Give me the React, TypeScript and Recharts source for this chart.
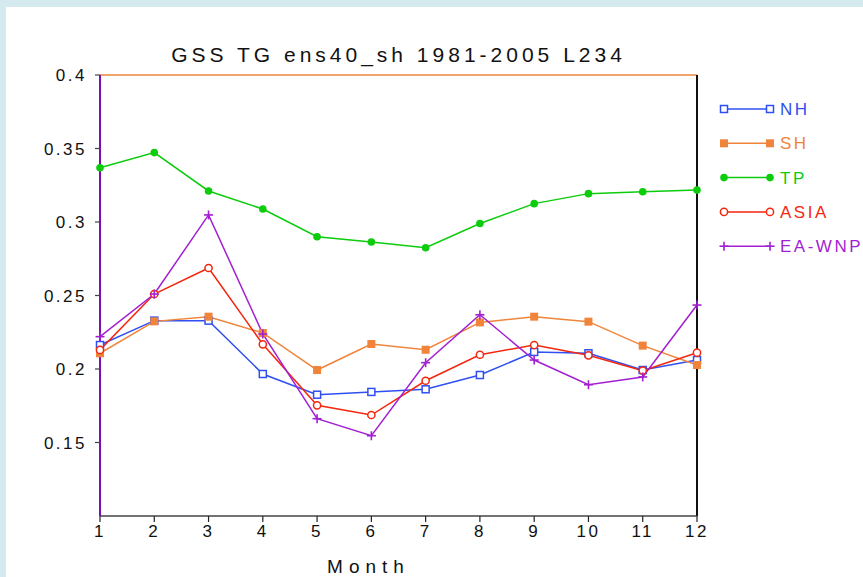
import React from 'react';
import { LineChart, Line, XAxis, YAxis, ReferenceLine, Legend } from 'recharts';

const months = [1, 2, 3, 4, 5, 6, 7, 8, 9, 10, 11, 12];
const nh = [0.2163, 0.2329, 0.2329, 0.1966, 0.1825, 0.1844, 0.1862, 0.1959, 0.2116, 0.2107, 0.1993, 0.2061];
const sh = [0.2107, 0.2324, 0.2356, 0.2245, 0.1993, 0.217, 0.2131, 0.2317, 0.2356, 0.2322, 0.2159, 0.2027];
const tp = [0.3369, 0.3472, 0.3211, 0.3088, 0.29, 0.2864, 0.2825, 0.299, 0.3125, 0.3193, 0.3206, 0.3218];
const asia = [0.213, 0.251, 0.2687, 0.2168, 0.1753, 0.1687, 0.192, 0.2097, 0.2163, 0.2093, 0.1989, 0.2111];
const eawnp = [0.222, 0.251, 0.3048, 0.2238, 0.1662, 0.1546, 0.2043, 0.2369, 0.2061, 0.1893, 0.1946, 0.2435];
const yTicks = [0.15, 0.2, 0.25, 0.3, 0.35, 0.4];
const title = 'GSS TG ens40_sh 1981-2005 L234';
const xLabel = 'Month';

const data = months.map((m, i) => ({
  month: m,
  NH: nh[i],
  SH: sh[i],
  TP: tp[i],
  ASIA: asia[i],
  'EA-WNP': eawnp[i],
}));

const series = [
  { key: 'NH', color: '#2f4ff2', marker: 'openSquare' },
  { key: 'SH', color: '#f0843a', marker: 'square' },
  { key: 'TP', color: '#0ccc0c', marker: 'circle' },
  { key: 'ASIA', color: '#f4260e', marker: 'openCircle' },
  { key: 'EA-WNP', color: '#a21fd2', marker: 'plus' },
];

function Marker({ type, cx, cy, color }: { type: string; cx: number; cy: number; color: string }) {
  if (cx == null || cy == null) return null;
  switch (type) {
    case 'openSquare':
      return <rect x={cx - 3.5} y={cy - 3.5} width={7} height={7} fill="#fff" stroke={color} strokeWidth={1.5} />;
    case 'square':
      return <rect x={cx - 4} y={cy - 4} width={8} height={8} fill={color} stroke="none" />;
    case 'circle':
      return <circle cx={cx} cy={cy} r={3.8} fill={color} stroke="none" />;
    case 'openCircle':
      return <circle cx={cx} cy={cy} r={3.6} fill="#fff" stroke={color} strokeWidth={1.5} />;
    case 'plus':
      return (
        <g stroke={color} strokeWidth={1.6}>
          <line x1={cx - 4.5} y1={cy} x2={cx + 4.5} y2={cy} />
          <line x1={cx} y1={cy - 4.5} x2={cx} y2={cy + 4.5} />
        </g>
      );
    default:
      return null;
  }
}

const LegendContent = () => (
  <svg width={143} height={170} style={{ display: 'block', overflow: 'visible' }}>
    {series.map((s, i) => {
      const y = 14 + i * 34.3;
      return (
        <g key={s.key}>
          <line x1={4} y1={y} x2={50} y2={y} stroke={s.color} strokeWidth={1.5} />
          <Marker type={s.marker} cx={4} cy={y} color={s.color} />
          <Marker type={s.marker} cx={50} cy={y} color={s.color} />
          <text
            x={60}
            y={y + 6}
            fill={s.color}
            fontSize={17}
            letterSpacing={2.5}
            fontFamily="Liberation Sans, Arial, sans-serif"
          >
            {s.key}
          </text>
        </g>
      );
    })}
  </svg>
);

const tickStyle = { fill: '#111', fontSize: 17, fontFamily: 'Liberation Sans, Arial, sans-serif', letterSpacing: 2.5 };

export default function App() {
  return (
    <div
      style={{
        position: 'absolute',
        top: 0,
        left: 0,
        width: 863,
        height: 577,
        background: '#d4eaee',
        overflow: 'hidden',
      }}
    >
      <div style={{ position: 'absolute', top: 7, left: 6, width: 857, height: 570, background: '#fff' }} />
      <div
        style={{
          position: 'absolute',
          top: 44,
          left: 100,
          width: 597,
          textAlign: 'center',
          fontFamily: 'Liberation Sans, Arial, sans-serif',
          fontSize: 21,
          lineHeight: '21px',
          letterSpacing: 4,
          color: '#111',
          whiteSpace: 'nowrap',
        }}
      >
        {title}
      </div>
      <div style={{ position: 'absolute', top: 0, left: 0 }}>
        <LineChart width={863} height={577} data={data} margin={{ top: 75, left: 0, right: 166, bottom: 0 }}>
          <XAxis
            dataKey="month"
            type="number"
            domain={[1, 12]}
            ticks={months}
            allowDecimals={false}
            stroke="#333"
            axisLine={{ stroke: '#444', strokeWidth: 1.5 }}
            tickLine={{ stroke: '#222', strokeWidth: 1.2 }}
            tickSize={6}
            tickMargin={3}
            tick={tickStyle}
            height={61}
            label={{
              value: xLabel,
              position: 'insideBottom',
              offset: 4,
              dx: -30,
              fill: '#111',
              fontSize: 19,
              letterSpacing: 6,
              fontFamily: 'Liberation Sans, Arial, sans-serif',
            }}
          />
          <YAxis
            type="number"
            domain={[0.1, 0.4]}
            ticks={yTicks}
            width={100}
            axisLine={{ stroke: '#7a10b0', strokeWidth: 2 }}
            tickLine={{ stroke: '#444', strokeWidth: 1.2 }}
            tickSize={5}
            tickMargin={8}
            tick={tickStyle}
            tickFormatter={(v: number) => String(v)}
          />
          {series.map((s) => (
            <Line
              key={s.key}
              type="linear"
              dataKey={s.key}
              stroke={s.color}
              strokeWidth={1.5}
              isAnimationActive={false}
              dot={(p: any) => <Marker key={`${s.key}-${p.index}`} type={s.marker} cx={p.cx} cy={p.cy} color={s.color} />}
              activeDot={false}
            />
          ))}
          <ReferenceLine y={0.4} stroke="#e8863a" strokeWidth={1.5} />
          <ReferenceLine x={12} stroke="#111" strokeWidth={2} />
          <ReferenceLine x={1} stroke="#7a10b0" strokeWidth={2} />
          <Legend
            layout="horizontal"
            verticalAlign="middle"
            align="center"
            content={LegendContent}
            wrapperStyle={{ top: 95, left: 720, width: 143, height: 170 }}
          />
        </LineChart>
      </div>
    </div>
  );
}
